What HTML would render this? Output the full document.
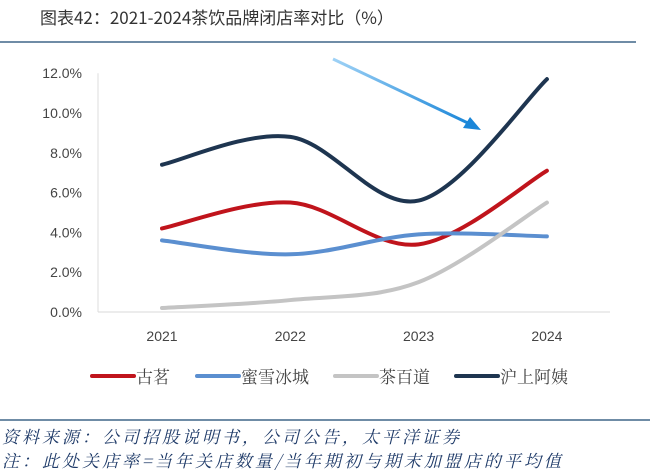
<!DOCTYPE html>
<html><head><meta charset="utf-8"><style>
body{margin:0;width:650px;height:472px;background:#fff;overflow:hidden;font-family:"Liberation Sans","Noto Sans CJK SC",sans-serif}
svg{position:absolute;left:0;top:0}
</style></head><body>
<svg width="650" height="472">
<text x="40" y="24" font-size="17" fill="#333" font-family="'Noto Sans CJK SC',sans-serif">图表42：2021-2024茶饮品牌闭店率对比（%）</text>
<line x1="0" y1="42" x2="636" y2="42" stroke="#6f8ca6" stroke-width="2"/>
<g id="axes"></g>
<g id="series"></g>
<defs><linearGradient id="ag" x1="0" y1="0" x2="1" y2="1"><stop offset="0" stop-color="#9fd2f6"/><stop offset="1" stop-color="#1a86d8"/></linearGradient></defs>
<g>
<line x1="333" y1="59" x2="470" y2="124" stroke="url(#ag)" stroke-width="3"/>
<polygon points="481,130 463,128 470,117" fill="#1a86d8"/>
</g>
<g id="legend"></g>
<line x1="0" y1="420" x2="650" y2="420" stroke="#6f8ca6" stroke-width="2"/>
<text x="2" y="443" font-size="17" letter-spacing="3" fill="#1e3a68" font-style="italic" font-family="'Noto Serif CJK SC',serif">资料来源：公司招股说明书，公司公告，太平洋证券</text>
<text x="2" y="467" font-size="17" letter-spacing="3" fill="#1e3a68" font-style="italic" font-family="'Noto Serif CJK SC',serif">注：此处关店率=当年关店数量/当年期初与期末加盟店的平均值</text>
</svg>
<script>
const categories=["2021","2022","2023","2024"];
const seriesNames=["古茗","蜜雪冰城","茶百道","沪上阿姨"];
const guming=[4.2,5.5,3.4,7.1];
const mixue=[3.6,2.9,3.9,3.8];
const chabaidao=[0.2,0.6,1.5,5.5];
const hushang=[7.4,8.8,5.6,11.7];
const yTicks=[0,2,4,6,8,10,12];
const colors=["#c0141c","#5b8fd0","#c4c4c4","#1e3550"];
const NS="http://www.w3.org/2000/svg";
const x=i=>162+i*128.3;
const y=v=>312-v*19.9;
const axes=document.getElementById('axes');
function mk(tag,attrs,parent){const e=document.createElementNS(NS,tag);for(const k in attrs)e.setAttribute(k,attrs[k]);parent.appendChild(e);return e;}
const yl=mk('line',{x1:98,y1:y(12),x2:98,y2:y(0),stroke:'#ddd'},axes);


const xl=mk('line',{x1:98,y1:y(0),x2:610,y2:y(0),stroke:'#d9d9d9'},axes);


yTicks.forEach(t=>{const e=mk('text',{x:82,y:y(t)+5,'font-size':14,fill:'#444','text-anchor':'end'},axes);e.textContent=t.toFixed(1)+'%';

});
categories.forEach((c,i)=>{const e=mk('text',{x:x(i),y:341,'font-size':14,fill:'#444','text-anchor':'middle'},axes);e.textContent=c;

});
function path(vals){const p=vals.map((v,i)=>[x(i),y(v)]);let d=`M${p[0][0]},${p[0][1]}`;
for(let i=0;i<p.length-1;i++){const p0=p[i-1]||p[i],p1=p[i],p2=p[i+1],p3=p[i+2]||p[i+1];
d+=` C${p1[0]+(p2[0]-p0[0])/6},${p1[1]+(p2[1]-p0[1])/6} ${p2[0]-(p3[0]-p1[0])/6},${p2[1]-(p3[1]-p1[1])/6} ${p2[0]},${p2[1]}`;}return d;}
const sg=document.getElementById('series');
[guming,mixue,chabaidao,hushang].forEach((s,k)=>{const e=mk('path',{d:path(s),fill:'none',stroke:colors[k],'stroke-width':4,'stroke-linecap':'round'},sg);

});
const lg=document.getElementById('legend');
const lx=[92,197,335,456];
seriesNames.forEach((n,k)=>{const g=mk('g',{},lg);


mk('line',{x1:lx[k],y1:376,x2:lx[k]+42,y2:376,stroke:colors[k],'stroke-width':4,'stroke-linecap':'round'},g);
const t=mk('text',{x:lx[k]+44,y:383,'font-size':17,fill:'#444','font-family':"'Noto Serif CJK SC',serif"},g);t.textContent=n;});
</script>
</body></html>
